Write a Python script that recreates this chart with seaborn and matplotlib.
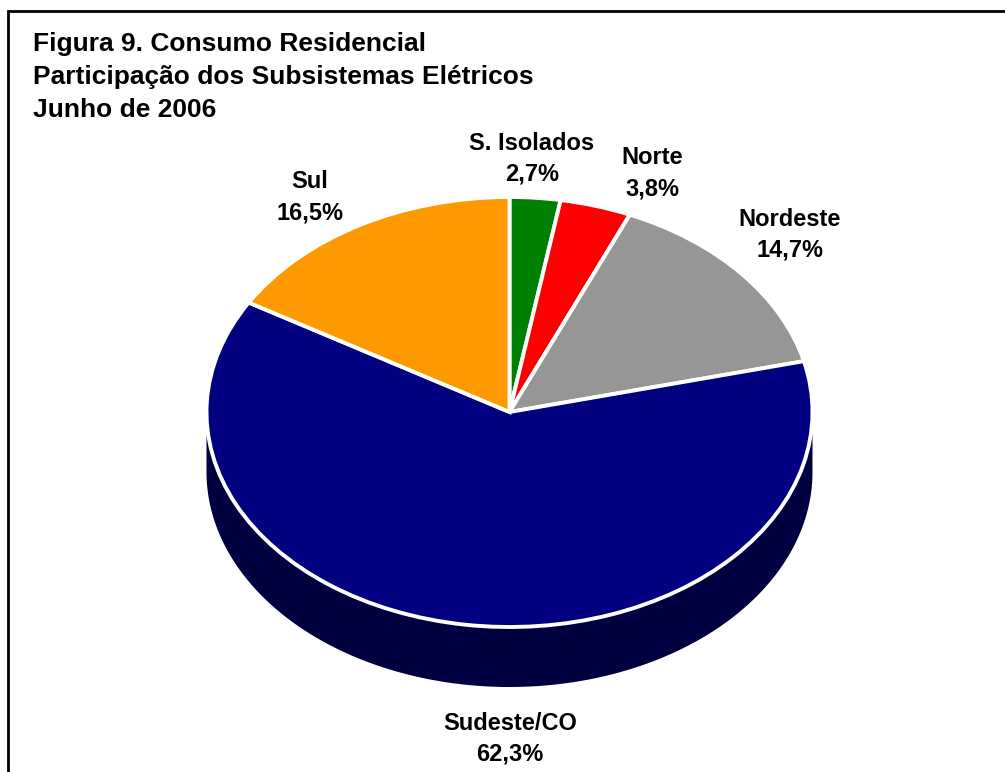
import numpy as np
import matplotlib
matplotlib.use("Agg")
import matplotlib.pyplot as plt
from matplotlib.patches import Polygon, Rectangle
from matplotlib.colors import to_rgb
import seaborn as sns

# Residential consumption share by electric subsystem, June 2006
subsystems = ["S. Isolados", "Norte", "Nordeste", "Sudeste/CO", "Sul"]
shares = [2.7, 3.8, 14.7, 62.3, 16.5]
share_labels = ["2,7%", "3,8%", "14,7%", "62,3%", "16,5%"]
slice_colors = ["#008000", "#FF0000", "#969696", "#000080", "#FF9900"]

title_lines = ["Figura 9. Consumo Residencial",
               "Participação dos Subsistemas Elétricos",
               "Junho de 2006"]

sns.set_theme(style="white")
plt.rcParams["font.family"] = ["Liberation Sans", "DejaVu Sans"]

W, H = 1005, 772
fig = plt.figure(figsize=(W / 100, H / 100), dpi=100)
fig.patch.set_facecolor("white")
ax = fig.add_axes([0, 0, 1, 1])

# tilt: vertical squash of the pie disc
tilt = 215 / 303
cx, cy_px = 509.5, 412
cy = (H - cy_px) / tilt
radius = 303
depth = 60 / tilt


def darker(c, f=0.5):
    r, g, b = to_rgb(c)
    return (r * f, g * f, b * f)


# top disc
wedges, _ = ax.pie(shares, colors=slice_colors, startangle=90, counterclock=False,
                   center=(cx, cy), radius=radius, frame=True,
                   wedgeprops=dict(edgecolor="white", linewidth=2.8))
for w in wedges:
    w.set_zorder(3)

# side walls along the front half of the rim
for w, col in zip(wedges, slice_colors):
    lo, hi = w.theta1, w.theta2
    while hi < lo:
        hi += 360
    for shift in (-360, 0, 360):
        a = max(lo, 180 + shift)
        b = min(hi, 360 + shift)
        if b <= a:
            continue
        th = np.radians(np.linspace(a, b, 200))
        xs = cx + radius * np.cos(th)
        ys = cy + radius * np.sin(th)
        pts = np.column_stack([np.r_[xs, xs[::-1]], np.r_[ys, ys[::-1] - depth]])
        ax.add_patch(Polygon(pts, closed=True, facecolor=darker(col),
                             edgecolor="none", zorder=2))

ax.set_aspect("auto")
ax.set_xlim(0, W)
ax.set_ylim(0, H / tilt)
ax.set_axis_off()


def fx(x):
    return x / W


def fy(y):
    return 1 - y / H


# title
for i, line in enumerate(title_lines):
    fig.text(fx(33), fy(44 + 33 * i), line, fontsize=19, fontweight="bold",
             ha="left", va="center", color="black")

# slice labels
label_pos = {
    "S. Isolados": (532, 143),
    "Norte": (652, 158),
    "Nordeste": (790, 219),
    "Sudeste/CO": (510, 723),
    "Sul": (310, 182),
}
for name, pct in zip(subsystems, share_labels):
    x, y = label_pos[name]
    fig.text(fx(x), fy(y), name, fontsize=17, fontweight="bold",
             ha="center", va="center", color="black")
    fig.text(fx(x), fy(y + 31), pct, fontsize=17, fontweight="bold",
             ha="center", va="center", color="black")

# outer frame (runs past the right and bottom edges)
fig.patches.append(Rectangle((fx(7.5), fy(H + 20)), fx(W + 40), fy(11) - fy(H + 20),
                             transform=fig.transFigure, fill=False,
                             edgecolor="black", linewidth=2.0))

fig.savefig("out.png", dpi=100, facecolor="white")
